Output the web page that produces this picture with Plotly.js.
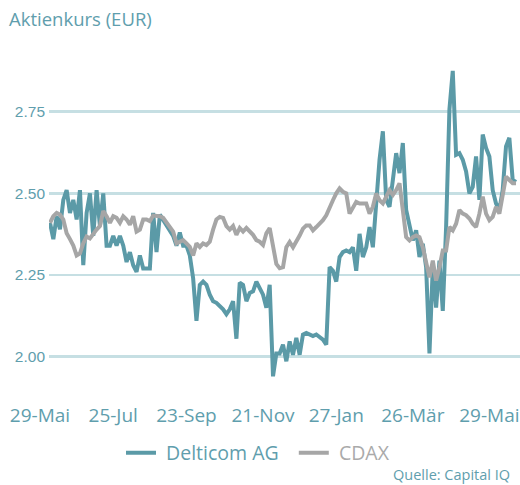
<!DOCTYPE html>
<html>
<head>
<meta charset="utf-8">
<script src="https://cdn.plot.ly/plotly-3.0.1.min.js"></script>
<style>html,body{margin:0;padding:0;background:#fff;}#chart{width:520px;height:485px;}</style>
</head>
<body>
<div id="chart"></div>
<script>
// Trading-day index positions of the x-axis labels
const tickIndex = [0, 22, 44, 67, 89, 112, 135];
const tickLabels = ["29-Mai", "25-Jul", "23-Sep", "21-Nov", "27-Jan", "26-Mär", "29-Mai"];

// Delticom AG share price (EUR)
const delticom = [
  2.41, 2.36, 2.43, 2.39, 2.48, 2.51, 2.44, 2.48, 2.42, 2.51,
  2.28, 2.44, 2.50, 2.37, 2.51, 2.40, 2.50, 2.34, 2.34, 2.37,
  2.34, 2.37, 2.34, 2.29, 2.32, 2.28, 2.26, 2.31, 2.27, 2.27,
  2.27, 2.44, 2.32, 2.435, 2.42, 2.40, 2.39, 2.37, 2.34, 2.38,
  2.34, 2.34, 2.31, 2.24, 2.11, 2.22, 2.23, 2.22, 2.19, 2.17,
  2.165, 2.155, 2.145, 2.13, 2.145, 2.17, 2.055, 2.227, 2.22, 2.17,
  2.195, 2.20, 2.23, 2.21, 2.19, 2.15, 2.22, 1.94, 2.01, 2.01,
  2.037, 1.986, 2.047, 2.006, 2.058, 2.006, 2.068, 2.073, 2.068, 2.063,
  2.068, 2.058, 2.052, 2.037, 2.274, 2.263, 2.23, 2.305, 2.32, 2.325,
  2.32, 2.335, 2.263, 2.376, 2.305, 2.335, 2.397, 2.335, 2.48, 2.603,
  2.69, 2.48, 2.459, 2.541, 2.623, 2.562, 2.654, 2.449, 2.397, 2.356,
  2.387, 2.305, 2.346, 2.274, 2.01, 2.274, 2.15, 2.294, 2.14, 2.397,
  2.757, 2.875, 2.618, 2.623, 2.603, 2.567, 2.50, 2.52, 2.613, 2.48,
  2.68, 2.639, 2.613, 2.51, 2.469, 2.449, 2.51, 2.644, 2.67, 2.541,
  2.535
];

// CDAX (rebased)
const cdax = [
  2.41, 2.43, 2.44, 2.435, 2.42, 2.378, 2.36, 2.34, 2.31, 2.316,
  2.347, 2.368, 2.362, 2.378, 2.389, 2.40, 2.446, 2.43, 2.41, 2.43,
  2.425, 2.41, 2.43, 2.42, 2.404, 2.43, 2.383, 2.389, 2.42, 2.42,
  2.415, 2.432, 2.432, 2.43, 2.425, 2.41, 2.394, 2.383, 2.347, 2.352,
  2.357, 2.347, 2.336, 2.31, 2.347, 2.336, 2.347, 2.342, 2.352, 2.389,
  2.42, 2.428, 2.425, 2.40, 2.389, 2.40, 2.373, 2.394, 2.383, 2.394,
  2.383, 2.373, 2.357, 2.352, 2.342, 2.378, 2.394, 2.336, 2.284, 2.271,
  2.274, 2.335, 2.351, 2.335, 2.351, 2.371, 2.392, 2.402, 2.402, 2.387,
  2.397, 2.407, 2.418, 2.433, 2.459, 2.479, 2.50, 2.515, 2.505, 2.50,
  2.438, 2.459, 2.474, 2.469, 2.469, 2.469, 2.438, 2.459, 2.50, 2.479,
  2.469, 2.49, 2.51, 2.495, 2.51, 2.531, 2.438, 2.366, 2.356, 2.366,
  2.371, 2.366, 2.335, 2.284, 2.243, 2.294, 2.233, 2.274, 2.325, 2.325,
  2.397, 2.387, 2.407, 2.449, 2.438, 2.433, 2.423, 2.407, 2.397, 2.438,
  2.49, 2.438, 2.418, 2.428, 2.459, 2.438, 2.49, 2.551, 2.541, 2.531,
  2.531
];

const idx = delticom.map((_, i) => i);

const tealLine = '#5b9aa7';
const grayLine = '#a6a6a6';
const textTeal = '#5f9ead';
const nb = '\u00a0';

const traces = [
  {x: idx, y: delticom, type: 'scatter', mode: 'lines', name: nb + 'Delticom AG' + nb + nb,
   line: {color: tealLine, width: 4}},
  {x: idx, y: cdax, type: 'scatter', mode: 'lines', name: nb + '<span style="color:#aaaaaa">CDAX</span>',
   line: {color: grayLine, width: 4}}
];

const layout = {
  width: 520, height: 485,
  margin: {l: 49, r: 0, t: 40, b: 95, pad: 0},
  paper_bgcolor: '#ffffff', plot_bgcolor: '#ffffff',
  showlegend: true,
  title: {text: 'Aktienkurs (EUR)', font: {family: 'Open Sans', size: 18.5, color: textTeal},
          xref: 'container', x: 9/520, xanchor: 'left', yref: 'container', y: 1 - 20/485, yanchor: 'middle'},
  xaxis: {range: [-0.3, 141.2], showgrid: false, zeroline: false, showline: false,
          tickmode: 'array', tickvals: tickIndex, ticktext: tickLabels, ticks: '',
          ticklabelshift: -10, ticklabelstandoff: 12, ticklabeloverflow: 'allow',
          tickfont: {family: 'Open Sans', size: 19, color: textTeal}, fixedrange: true},
  yaxis: {range: [1.8981, 2.9695], tickvals: [2.00, 2.25, 2.50, 2.75], ticktext: ['2.00', '2.25', '2.50', '2.75'],
          showgrid: true, gridcolor: '#c6dfe3', gridwidth: 2.6, zeroline: false, showline: false,
          ticks: '', ticklabelstandoff: 3,
          tickfont: {family: 'Liberation Sans', size: 15.5, color: textTeal}, fixedrange: true},
  legend: {orientation: 'h', xref: 'container', yref: 'container', x: 121/520, xanchor: 'left',
           y: 1 - 453/485, yanchor: 'middle', font: {family: 'Open Sans', size: 19.5, color: textTeal},
           bgcolor: 'rgba(0,0,0,0)', itemclick: false, itemdoubleclick: false},
  annotations: [{text: 'Quelle: Capital IQ', xref: 'paper', yref: 'paper', x: (511 - 49) / 471, xanchor: 'right',
                 y: (390 - 474) / 350, yanchor: 'middle', showarrow: false, borderpad: 0,
                 font: {family: 'Open Sans', size: 14.5, color: textTeal}}]
};

Plotly.newPlot('chart', traces, layout, {displayModeBar: false, staticPlot: true});
</script>
</body>
</html>
